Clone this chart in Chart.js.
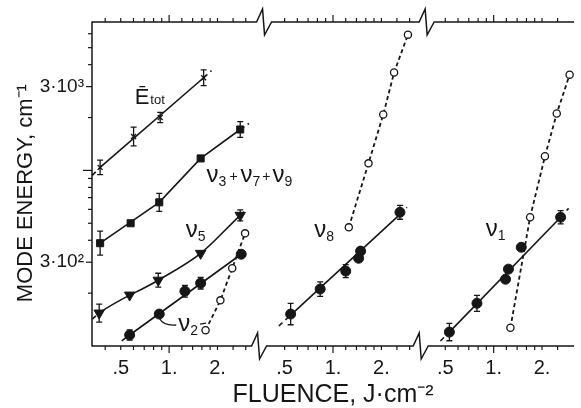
<!DOCTYPE html>
<html><head><meta charset="utf-8"><title>Mode energy vs fluence</title>
<script src="https://cdn.jsdelivr.net/npm/chart.js@4/dist/chart.umd.min.js"></script>
<style>html,body{margin:0;padding:0;background:#fff;overflow:hidden}#c{display:block}</style>
</head><body>
<canvas id="c" width="581" height="408"></canvas>
<script>
// ---------------- data ----------------
const xTickF = [0.5, 1, 2];
const xTickText = ['.5', '1.', '2.'];
const yTickE = [300, 3000];
const yTickText = ['3·10²', '3·10³'];

// E_tot (x markers) — left panel
const etotF = [0.372, 0.601, 0.88, 1.64];
const etotE = [1040, 1560, 2000, 3370];
const etotErr = [0.10, 0.13, 0.07, 0.11];
const etotFitF = [0.332, 0.372, 1.64, 1.835];
const etotFitE = [937, 1040, 3370, 3700];

// v3+v7+v9 (squares) — left panel
const v379F = [0.372, 0.576, 0.868, 1.571, 2.77];
const v379E = [385, 500, 658, 1170, 1710];
const v379Err = [0.17, 0, 0.125, 0, 0.11];
const v379FitF = [0.372, 0.868, 1.571, 2.77, 3.14];
const v379FitE = [385, 658, 1170, 1710, 1850];

// v5 (down triangles) — left panel
const v5F = [0.367, 0.568, 0.856, 1.571, 2.77];
const v5E = [154, 195, 237, 337, 555];
const v5Err = [0.125, 0, 0.095, 0, 0.075];
const v5FitF = [0.332, 0.367, 0.856, 1.571, 2.77, 3.05];
const v5FitE = [142, 154, 237, 337, 555, 600];

// v2 (filled circles) — left panel
const v2F = [0.568, 0.868, 1.254, 1.571, 2.81];
const v2E = [115.5, 152, 205, 228, 333];
const v2Err = [0.07, 0, 0.08, 0.08, 0];
const v2FitF = [0.507, 0.568, 2.81, 3.09];
const v2FitE = [106.8, 115.5, 333, 356];
// v2 (open circles)
const v2oF = [1.686, 2.085, 2.47, 2.97];
const v2oE = [123, 182, 277, 438];

// v8 — middle panel
const v8F = [0.545, 0.832, 1.20, 1.443, 1.485, 2.61];
const v8E = [152, 211, 267, 316, 347, 577];
const v8Err = [0.15, 0.10, 0.09, 0, 0, 0.095];
const v8FitF = [0.46, 0.545, 2.61, 2.886];
const v8FitE = [130, 150, 562, 617];
const v8oF = [1.254, 1.663, 2.055, 2.40, 2.927];
const v8oE = [474, 1097, 2080, 3607, 5930];

// v1 — right panel
const v1F = [0.530, 0.787, 1.185, 1.236, 1.485, 2.61];
const v1E = [120, 175, 240, 274, 365, 541];
const v1Err = [0.12, 0.11, 0, 0, 0, 0.09];
const v1FitF = [0.466, 0.530, 2.61, 2.927];
const v1FitE = [106.8, 120, 541, 608];
const v1oF = [1.271, 1.686, 2.085, 2.47, 2.97];
const v1oE = [127, 541, 1203, 2108, 3510];

// ---------------- build ----------------
const INK = '#161616';
const FONT = "'Liberation Sans', Arial, Helvetica, sans-serif";
const panelShift = [0, 1.02, 2.02];           // each panel is a separate log-F axis segment
const toU = (p, F) => panelShift[p] + Math.log10(F);
const pts = (p, F, E) => F.map((f, i) => ({x: toU(p, f), y: E[i]}));

function markers(label, p, F, E, err, style) {
  return Object.assign({
    label, data: pts(p, F, E), errFrac: err || null,
    showLine: false, order: 0,
    pointBorderColor: INK, pointBackgroundColor: INK, pointBorderWidth: 1,
    borderColor: INK, backgroundColor: INK
  }, style);
}
function openSet(label, p, F, E) {
  return {
    label, data: pts(p, F, E), showLine: true, order: 0,
    borderColor: INK, borderWidth: 1.8, borderDash: [4, 3],
    pointStyle: 'circle', pointRadius: 3.6, pointBorderWidth: 1.3,
    pointBorderColor: INK, pointBackgroundColor: '#ffffff'
  };
}
function fit(label, p, F, E, extStart, extEnd, extra) {
  const n = F.length;
  return Object.assign({
    label, data: pts(p, F, E), showLine: true, order: 1,
    pointRadius: 0, borderColor: INK, borderWidth: 1.6,
    segment: {
      borderDash: c => ((extStart && c.p0DataIndex === 0) || (extEnd && c.p1DataIndex === n - 1)) ? [5, 4] : undefined
    }
  }, extra || {});
}

const datasets = [
  markers('Etot', 0, etotF, etotE, etotErr, {pointStyle: 'crossRot', pointRadius: 3.5, pointBorderWidth: 1.3}),
  markers('v3+v7+v9', 0, v379F, v379E, v379Err, {pointStyle: 'rect', pointRadius: 5}),
  markers('v5', 0, v5F, v5E, v5Err, {pointStyle: 'triangle', pointRotation: 180, pointRadius: 6}),
  markers('v2', 0, v2F, v2E, v2Err, {pointStyle: 'circle', pointRadius: 5}),
  openSet('v2 open', 0, v2oF, v2oE),
  markers('v8', 1, v8F, v8E, v8Err, {pointStyle: 'circle', pointRadius: 5}),
  openSet('v8 open', 1, v8oF, v8oE),
  markers('v1', 2, v1F, v1E, v1Err, {pointStyle: 'circle', pointRadius: 5}),
  openSet('v1 open', 2, v1oF, v1oE),
  fit('Etot fit', 0, etotFitF, etotFitE, true, true),
  fit('v3+v7+v9 fit', 0, v379FitF, v379FitE, false, true),
  fit('v5 fit', 0, v5FitF, v5FitE, true, true, {cubicInterpolationMode: 'monotone'}),
  fit('v2 fit', 0, v2FitF, v2FitE, true, true),
  fit('v8 fit', 1, v8FitF, v8FitE, true, true),
  fit('v1 fit', 2, v1FitF, v1FitE, true, true)
];

// axis frame with broken x axis, tick marks and error bars
const framePlugin = {
  id: 'frame',
  beforeDatasetsDraw(chart, args, o) {
    const {ctx, chartArea: a, scales: {x, y}} = chart;
    ctx.save();
    ctx.strokeStyle = INK; ctx.lineWidth = 1.5; ctx.lineJoin = 'miter'; ctx.lineCap = 'butt';
    // left axis
    ctx.beginPath(); ctx.moveTo(a.left, a.top - 0.5); ctx.lineTo(a.left, a.bottom + 0.5); ctx.stroke();
    const broken = (yAx, brks) => {
      ctx.beginPath(); ctx.moveTo(a.left, yAx);
      brks.forEach(b => {
        const c = x.getPixelForValue(b);
        ctx.lineTo(c - 8, yAx); ctx.lineTo(c - 2, yAx - 13); ctx.lineTo(c, yAx + 13); ctx.lineTo(c + 7, yAx);
      });
      ctx.lineTo(a.right, yAx); ctx.stroke();
    };
    broken(a.top, o.topBreaks);
    broken(a.bottom, o.bottomBreaks);
    // x tick marks for each panel (outward)
    ctx.lineWidth = 1.2;
    const xt = (yAx, brks, dir) => {
      const edges = [a.left].concat(brks.map(b => x.getPixelForValue(b)), [a.right]);
      for (let p = 0; p < 3; p++) {
        o.minorF.forEach(f => {
          const px = x.getPixelForValue(toU(p, f));
          if (px < edges[p] + (p ? 11 : 4) || px > edges[p + 1] - 10) return;
          const len = f === 1 ? 7 : 4;
          ctx.beginPath(); ctx.moveTo(px, yAx); ctx.lineTo(px, yAx + dir * len); ctx.stroke();
        });
      }
    };
    xt(a.top, o.topBreaks, -1);
    xt(a.bottom, o.bottomBreaks, 1);
    // y tick marks (outward, left)
    o.yMinor.forEach(v => {
      const py = y.getPixelForValue(v);
      const len = v === 1000 ? 9 : (v === 300 || v === 3000 ? 6 : 4);
      ctx.beginPath(); ctx.moveTo(a.left, py); ctx.lineTo(a.left - len, py); ctx.stroke();
    });
    // error bars
    ctx.lineWidth = 1.3;
    chart.data.datasets.forEach(ds => {
      if (!ds.errFrac) return;
      ds.data.forEach((pt, i) => {
        const e = ds.errFrac[i];
        if (!e) return;
        const px = x.getPixelForValue(pt.x);
        const lo = y.getPixelForValue(pt.y / (1 + e));
        const hi = y.getPixelForValue(pt.y * (1 + e));
        ctx.beginPath();
        ctx.moveTo(px, lo); ctx.lineTo(px, hi);
        ctx.moveTo(px - 3, lo); ctx.lineTo(px + 3, lo);
        ctx.moveTo(px - 3, hi); ctx.lineTo(px + 3, hi);
        ctx.stroke();
      });
    });
    ctx.restore();
  },
  afterDatasetsDraw(chart, args, o) {
    const {ctx, scales: {x, y}} = chart;
    ctx.save();
    ctx.fillStyle = INK; ctx.strokeStyle = INK; ctx.textBaseline = 'alphabetic'; ctx.textAlign = 'left';
    const rich = (X, Y, parts) => {
      let cx = X;
      parts.forEach(([t, size, dy, gap]) => {
        ctx.font = size + 'px ' + FONT;
        ctx.fillText(t, cx, Y + (dy || 0));
        cx += ctx.measureText(t).width + (gap || 0);
      });
      return cx;
    };
    o.notes.forEach(n => {
      const X = x.getPixelForValue(toU(n.p, n.F));
      const Y = y.getPixelForValue(n.E);
      const end = rich(X, Y, n.parts);
      if (n.leader) {
        ctx.lineWidth = 1.3;
        ctx.beginPath();
        ctx.moveTo(X - 19, Y - 13); ctx.quadraticCurveTo(X - 15, Y - 5, X - 2, Y - 6);
        ctx.moveTo(end + 2, Y - 7); ctx.lineTo(end + 8, Y - 8);
        ctx.stroke();
      }
    });
    ctx.restore();
  }
};

new Chart(document.getElementById('c'), {
  type: 'line',
  data: {datasets},
  options: {
    responsive: false, animation: false, devicePixelRatio: 1, events: [],
    layout: {padding: {top: 22, right: 0, left: 0, bottom: 0}},
    plugins: {
      legend: {display: false}, tooltip: {enabled: false},
      frame: {
        topBreaks: [0.594, 1.606], bottomBreaks: [0.563, 1.569],
        minorF: [0.4, 0.5, 0.6, 0.7, 0.8, 0.9, 1, 1.2, 1.4, 1.6, 1.8, 2, 2.5, 3, 3.5],
        yMinor: [200, 300, 400, 500, 600, 700, 800, 900, 1000, 2000, 3000, 4000, 5000, 6000],
        notes: [
          {p: 0, F: 0.61, E: 2404, parts: [['Ē', 22, 0, 1], ['tot', 13, 0]]},
          {p: 0, F: 1.711, E: 855, parts: [['ν', 24, 0], ['3', 14, 4, 3], ['+', 14, -1, 3], ['ν', 24, 0], ['7', 14, 4, 2], ['+', 14, -1, 2], ['ν', 24, 0], ['9', 14, 4]]},
          {p: 0, F: 1.271, E: 416, parts: [['ν', 24, 0], ['5', 14, 4]]},
          {p: 0, F: 1.14, E: 121.7, parts: [['ν', 24, 0], ['2', 14, 4]], leader: true},
          {p: 1, F: 0.765, E: 416, parts: [['ν', 24, 0], ['8', 14, 4]]},
          {p: 2, F: 0.893, E: 422, parts: [['ν', 24, 0], ['1', 14, 4]]}
        ]
      }
    },
    scales: {
      x: {
        type: 'linear', min: -0.48, max: 2.52,
        afterFit: s => { s.height = 62; },
        afterBuildTicks: s => {
          const t = [];
          for (let p = 0; p < 3; p++) xTickF.forEach(f => t.push({value: toU(p, f)}));
          s.ticks = t;
        },
        grid: {display: false, drawTicks: false}, border: {display: false},
        ticks: {
          autoSkip: false, maxRotation: 0, padding: 10, color: INK,
          font: {family: FONT, size: 20},
          callback: (v, i) => xTickText[i % xTickText.length]
        },
        title: {display: true, text: 'FLUENCE, J·cm⁻²', color: INK,
          font: {family: FONT, size: 25, lineHeight: 1}, padding: {top: 0, bottom: 0}}
      },
      y: {
        type: 'logarithmic', min: 100, max: 7000,
        afterFit: s => { s.width = 92; },
        afterBuildTicks: s => { s.ticks = yTickE.map(v => ({value: v})); },
        grid: {display: false, drawTicks: false}, border: {display: false},
        ticks: {
          padding: 8, color: INK, font: {family: FONT, size: 19},
          callback: v => { const k = yTickE.indexOf(v); return k >= 0 ? yTickText[k] : ''; }
        },
        title: {display: true, text: 'MODE ENERGY, cm⁻¹   ', color: INK,
          font: {family: FONT, size: 22, lineHeight: 1}, padding: {top: 15, bottom: 0}}
      }
    }
  },
  plugins: [framePlugin]
});
</script>
</body></html>
